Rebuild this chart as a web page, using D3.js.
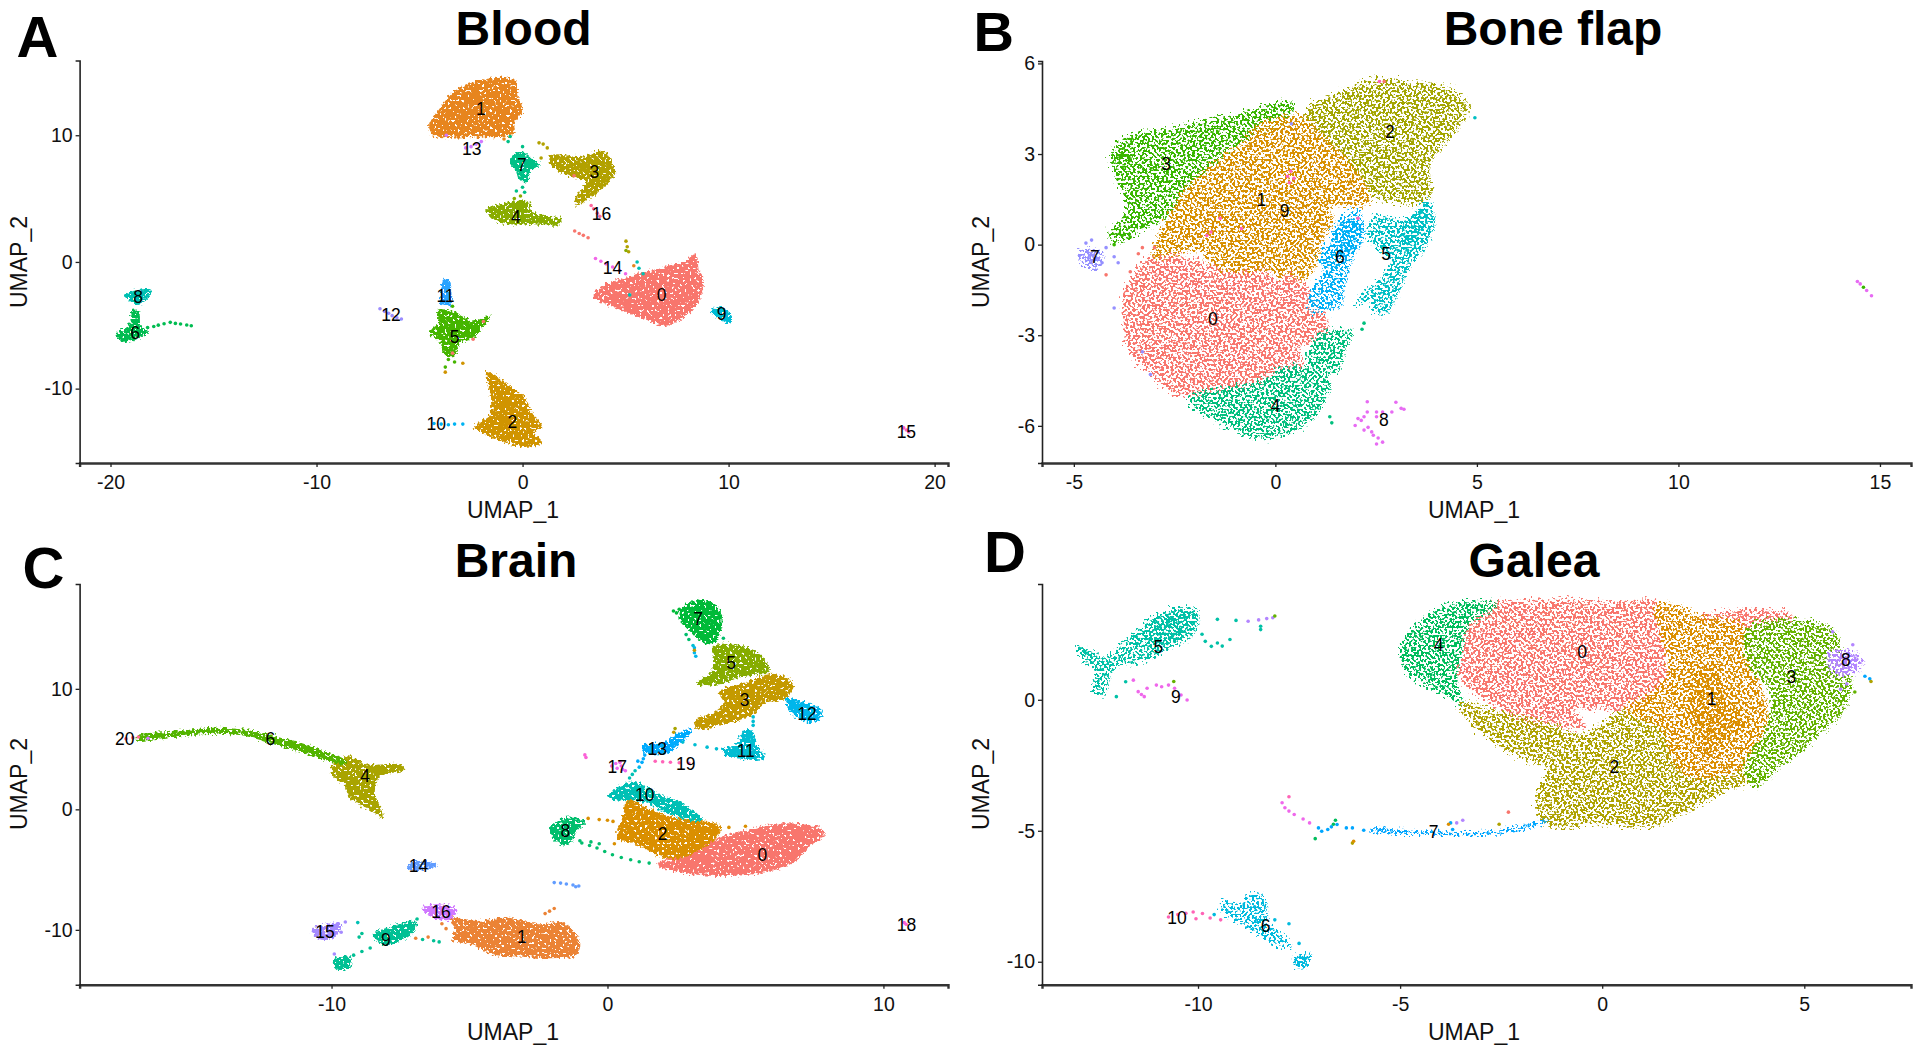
<!DOCTYPE html>
<html><head><meta charset="utf-8">
<style>html,body{margin:0;background:#fff}svg{display:block}text{font-family:"Liberation Sans",Arial,sans-serif}</style>
<script src="https://cdn.jsdelivr.net/npm/d3@7"></script></head><body><svg id="c" width="1920" height="1054"></svg>
<script>
// ---------- Panel A: Blood ----------
const bloodCount = 17;
const bloodLabelX = [6.75,-2.02,-.5,3.48,-.33,-3.3,-18.8,-.03,-18.66,9.66,-4.19,-3.74,-6.39,-2.47,4.37,18.63,3.83];
const bloodLabelY = [-2.6,12.07,-12.6,7.11,3.58,-5.92,-5.57,7.69,-2.79,-4.11,-12.79,-2.71,-4.19,8.89,-.45,-13.4,3.77];
const bloodHulls = [
 [1,[[-4.49,10.74],[-4.1,11.8],[-3.2,13.5],[-1.87,14.3],[-.39,14.3],[-.24,13],[-.03,11.9],[-.45,11],[-.45,10.2],[-1,9.95],[-2.76,9.95],[-4.2,9.95]]],
 [0,[[3.48,-2.6],[4.07,-1.86],[5.26,-1.19],[6.15,-.8],[7.34,-.27],[7.93,0],[8.38,.53],[8.53,-.8],[8.74,-1.33],[8.68,-2.39],[8.23,-3.71],[7.64,-4.5],[6.89,-4.96],[5.85,-4.38],[4.37,-3.45],[3.63,-2.92]]],
 [2,[[-1.72,-8.75],[-.68,-9.8],[.06,-10.74],[.51,-12.2],[.89,-12.86],[.51,-13.5],[.95,-14.2],[.21,-14.5],[-.68,-14.2],[-1.87,-13.5],[-2.32,-12.99],[-1.57,-12.2],[-1.49,-10.6]]],
 [3,[[1.4,8.36],[2.88,8.22],[3.92,8.7],[4.37,7.69],[4.43,6.9],[3.92,5.97],[3.18,5.04],[2.59,4.51],[2.73,5.3],[3.18,6.37],[2.44,6.76],[1.84,7.16],[1.4,7.69]]],
 [7,[[-.53,8.22],[-.09,8.62],[.51,7.96],[.8,7.69],[.36,7.29],[.21,6.37],[-.09,6.5],[-.24,7.16],[-.53,7.69]]],
 [4,[[-1.72,4.11],[-.68,4.64],[-.09,4.77],[.36,4.64],[.36,3.98],[1.4,3.5],[1.84,3.32],[1.75,3],[.51,3.05],[-.98,3.13],[-1.57,3.71]]],
 [5,[[-4.46,-5.57],[-4,-4.77],[-4.1,-3.85],[-3.2,-4.1],[-2.9,-4.38],[-2.47,-4.77],[-1.57,-4.3],[-2,-5.17],[-2.32,-5.84],[-3.06,-6.37],[-3.36,-7.43],[-3.8,-7.16],[-3.95,-6.23]]],
 [6,[[-19.7,-5.7],[-19.1,-5.17],[-18.87,-3.85],[-18.66,-3.98],[-18.57,-5.17],[-18.2,-5.44],[-18.66,-5.97],[-19.26,-6.23],[-19.55,-6.1]]],
 [8,[[-19.3,-2.65],[-18.96,-2.39],[-18.07,-2.25],[-18.2,-2.78],[-18.66,-3.32],[-18.96,-3.05]]],
 [9,[[9.18,-3.93],[9.57,-3.58],[10.16,-4.38],[10,-4.77],[9.57,-4.38]]],
 [11,[[-3.8,-1.46],[-3.6,-1.46],[-3.5,-2.65],[-3.5,-3.3],[-3.95,-3.3],[-3.9,-2.4]]]
];
const bloodCores = [];
const bloodDots = [
 [6,-18.2,-5.17],[6,-17.9,-5.1],[6,-17.68,-4.99],[6,-17.4,-4.88],[6,-17.1,-4.77],[6,-16.85,-4.85],[6,-16.6,-4.9],[6,-16.3,-4.98],[6,-16.08,-5.04],
 [10,-4.3,-12.75],[10,-3.95,-12.8],[10,-3.6,-12.85],[10,-3.3,-12.8],[10,-2.9,-12.8],
 [12,-6.92,-3.7],[12,-6.7,-3.9],[12,-6.5,-4.05],[12,-6.33,-4.24],[12,-6.1,-4.4],[12,-5.88,-4.5],
 [13,-2.76,9.0],[13,-2.5,9.1],[13,-2.25,9.3],[13,-2,9.5],[13,-3.7,10],
 [14,3.54,.27],[14,3.8,.05],[14,4.05,-.15],[14,4.37,-.4],[14,4.7,-.68],[14,5,-.93],
 [15,18.5,-13.1],[15,18.63,-13.26],[15,18.75,-13.42],
 [16,3.33,4.46],[16,3.45,4.2],[16,3.63,3.85],[16,3.75,3.6],
 [0,2.53,2.44],[0,2.75,2.25],[0,2.95,2.1],[0,3.18,1.91],[0,2.5,6.8],
 [3,5.02,1.64],[3,5.08,1.2],[3,5.15,.8],[4,5.02,.9],[3,1.0,9.3],[3,.8,9.4],[3,1.2,9.0],[3,.9,8.2],
 [1,5.4,-.3],[8,5.56,0],[8,5.65,-.5],[8,5.85,-.93],[8,5.2,-2.6],
 [7,-.3,5.6],[7,0,5.9],[7,.1,5.5],[7,0,9.1],[7,-.6,9.9],[7,-.7,9.5],[1,-.9,9.7],
 [4,-.1,5.2],[4,-.4,5.0],
 [5,-3.6,-7.7],[5,-3.3,-7.9],[5,-3.75,-8.3],[2,-3.75,-8.7],[5,-3.4,-3.5],[2,-2.9,-8.0],[11,-3.8,-1.5],
 [0,-1.9,-4.7],[0,-2.4,-6.1],[0,-3.4,-7.2]
];
// ---------- Panel B: Bone flap ----------
const boneCount = 10;
const boneLabelX = [-1.55,-.35,2.84,-2.71,0,2.75,1.6,-4.48,2.69,.23];
const boneLabelY = [-2.47,1.48,3.74,2.68,-5.33,-.3,-.41,-.41,-5.79,1.12];
const boneHulls = [
 [1,[[1.9,1.45],[1.3,1.5],[1.25,.6],[1.1,-.2],[.9,-.9],[.45,-1.3],[.1,-.9],[.2,-.3],[.7,.3],[1.2,1.2]]],
 [0,[[-3.27,-.69],[-2.66,-.36],[-1.29,-.8],[-.38,-.69],[.08,-1.25],[.38,-1.02],[1.14,-2.14],[1.29,-2.92],[.61,-3.36],[.68,-4.03],[.23,-4.25],[-.38,-4.59],[-1.75,-4.92],[-2.36,-4.92],[-3.12,-4.14],[-3.57,-3.47],[-3.69,-2.47],[-3.72,-1.69],[-3.5,-1.14]]],
 [2,[[.84,4.43],[1.29,4.77],[1.9,5.16],[2.66,5.43],[3.42,5.32],[4.18,5.21],[4.56,4.93],[4.86,4.54],[4.64,4.15],[4.33,3.54],[4.03,3.1],[3.8,2.54],[3.91,1.76],[3.57,1.43],[2.81,1.54],[2.36,1.76],[2.05,2.32],[1.9,2.76],[1.29,3.43],[.84,3.88]]],
 [3,[[-3.95,3.21],[-3.42,3.65],[-2.66,3.76],[-2.05,3.93],[-1.37,4.15],[-.84,4.26],[-.23,4.54],[.46,4.65],[.08,3.88],[-.53,3.65],[-1.14,3.21],[-1.6,2.54],[-2.2,1.87],[-2.66,.98],[-3.27,.53],[-3.95,.09],[-4.03,.42],[-3.65,.98],[-3.65,1.54],[-3.88,2.2],[-4,2.76]]],
 [1,[[-.08,4.1],[.68,4.21],[1.14,3.65],[1.9,2.65],[2.13,2.2],[2.36,1.43],[1.29,1.31],[1.44,.76],[.99,.2],[.68,.09],[.23,-.69],[-.38,-.8],[-1.29,-.8],[-1.9,-.13],[-2.96,-.36],[-2.81,.31],[-2.58,.87],[-2.2,1.76],[-1.75,2.32],[-1.14,2.98],[-.68,3.43],[-.38,3.88]]],
 [4,[[-2.05,-5.2],[-1.75,-4.92],[-.38,-4.59],[.23,-4.14],[1.14,-4.14],[1.37,-4.7],[1.14,-5.37],[.99,-5.7],[.23,-6.26],[-.38,-6.35],[-.99,-6.09],[-1.44,-5.76],[-1.82,-5.48]]],
 [4,[[1.29,-2.92],[1.9,-2.92],[1.67,-3.7],[1.6,-4.14],[1.14,-4.14],[.84,-3.81],[1.14,-3.03]]],
 [5,[[2.51,.88],[3.27,.76],[3.8,1.43],[3.95,.87],[3.8,.09],[3.34,-.69],[3.12,-1.36],[2.81,-2.19],[2.51,-2.19],[2.43,-1.8],[2.05,-1.92],[2.51,-1.36],[2.96,-.58],[2.66,-.13],[2.36,.31]]],
 [6,[[1.52,.53],[2.05,1.09],[2.2,.31],[1.9,-.47],[1.75,-1.14],[1.6,-1.97],[.91,-2.14],[.99,-1.47],[1.29,-.8],[1.14,-.47],[1.44,.09]]],
 [7,[[-4.86,-.36],[-4.56,-.13],[-4.26,-.36],[-4.49,-.8]]]
];
const boneCores = [
 [3,[[-3.88,3.1],[-3.7,3.3],[-3.6,2.6],[-3.8,2.5]]],
 [6,[[1.6,.53],[2.05,.87],[1.9,-.13],[1.5,-.5],[1.44,-.13]]],
 [5,[[3.2,.7],[3.72,1.2],[3.72,.53],[3.2,-.2]]],
 [7,[[-4.75,-.3],[-4.5,-.2],[-4.35,-.4],[-4.5,-.7]]]
];
const boneDots = [
 [8,2.05,-5.76],[8,2.2,-5.7],[8,2.28,-5.54],[8,2.51,-5.54],[8,2.66,-5.54],[8,2.28,-5.2],[8,2.51,-5.7],[8,3.12,-5.42],[8,2.99,-5.22],[8,2.89,-5.54],[8,2.2,-6.14],[8,2.43,-6.31],[8,2.66,-6.54],[8,2.51,-6.6],[8,1.98,-5.99],[8,2.13,-5.82],[8,2.39,-6.2],[8,3.19,-5.45],[8,2.3,-6.05],[8,2.55,-6.4],
 [8,14.44,-1.22],[8,14.51,-1.3],[3,14.59,-1.41],[8,14.67,-1.52],[8,14.79,-1.69],
 [9,.38,2.43],[9,.3,2.26],[9,.46,2.2],[9,.35,2.05],[9,-1.6,.42],[9,-1.37,.87],[9,-.84,.53],[9,2.58,5.4],[0,2.7,5.4],[9,2.05,.87],[9,-1.7,.3],
 [7,-4.56,.15],[7,-4.2,-.1],[7,-4.0,-.4],[7,-3.9,-.6],[7,-4.3,-.6],[7,-4.7,.05],[7,-4.0,-2.1],[7,-3.3,-3.55],[7,-3.1,-4.3],[7,0.4,4.0],
 [0,-3.4,-.3],[0,-3.6,-.9],[0,-4.2,-1.0],[0,-3.3,-.1],[0,-3.0,-.1],
 [3,-4.0,0.0],[3,-3.8,.3],[3,-3.6,.25],[3,-3.3,.6],
 [4,2.2,-2.6],[4,2.15,-2.8],[4,1.35,-5.7],[4,1.4,-5.9],[5,4.95,4.2]
];
// ---------- Panel C: Brain ----------
const brainCount = 21;
const brainLabelX = [5.61,-3.1,2,4.97,-8.78,4.48,-12.22,3.28,-1.53,-8.03,1.35,5.01,7.23,1.8,-6.85,-10.24,-6.03,.35,10.84,2.84,-17.49];
const brainLabelY = [-3.82,-10.6,-2.04,9.07,2.73,12.13,5.86,15.76,-1.81,-10.88,1.2,4.83,7.89,5.02,-4.74,-10.18,-8.56,3.49,-9.62,3.77,5.8];
const brainHulls = [
 [0,[[1.84,-4.6],[3.06,-3.63],[3.95,-2.51],[4.83,-1.95],[6.16,-1.26],[7.72,-1.67],[7.83,-2.18],[7.27,-3.07],[6.83,-4.18],[5.94,-5.02],[3.95,-5.44],[2.39,-5.02]]],
 [1,[[-5.7,-9.07],[-4.7,-9.34],[-3.59,-9.07],[-2.48,-9.62],[-1.6,-9.48],[-1.04,-10.88],[-1.15,-12],[-2.04,-12.27],[-3.15,-12.13],[-4.04,-12],[-4.92,-11.16],[-5.59,-10.74],[-5.48,-9.9]]],
 [2,[[.73,.7],[1.51,0],[2.06,-.56],[3.06,-.98],[4.06,-1.39],[3.95,-2.23],[3.06,-3.63],[2.39,-4.04],[1.84,-3.77],[1.18,-2.93],[.4,-2.37],[.51,-1.12],[.62,-.28]]],
 [3,[[4.06,9.76],[4.83,10.32],[6.05,11.16],[6.72,10.32],[6.39,9.2],[5.72,8.93],[5.17,7.81],[3.95,6.97],[3.39,6.69],[3.17,7.25],[3.95,8.09],[4.28,8.93]]],
 [4,[[-9.91,3.63],[-9.36,4.32],[-8.69,3.63],[-7.58,3.68],[-7.36,3.35],[-8.25,2.79],[-8.47,1.39],[-8.14,-.56],[-8.47,-.14],[-9.36,1.12],[-9.47,2.09],[-9.91,2.79]]],
 [5,[[3.84,13.39],[4.39,13.67],[5.28,13.11],[5.72,12.27],[5.83,11.44],[4.95,11.16],[4.06,10.46],[3.28,10.46],[3.84,11.44],[3.9,12.27]]],
 [6,[[-17.01,6.08],[-15.79,6.36],[-14.24,6.69],[-13.13,6.53],[-12.24,6.08],[-11.13,5.44],[-10.24,4.69],[-9.53,4.04],[-9.53,3.77],[-10.24,4.18],[-11.13,4.88],[-12.24,5.58],[-13.13,6.19],[-14.24,6.36],[-15.79,6.08],[-17.01,5.8]]],
 [7,[[2.73,16.74],[3.28,17.29],[3.84,17.01],[4.13,15.9],[4.06,14.79],[3.84,13.81],[3.39,14.09],[2.95,15.06],[2.66,15.76]]],
 [8,[[-2.04,-1.53],[-1.49,-.78],[-.82,-1.12],[-1.15,-1.67],[-1.26,-2.37],[-1.49,-2.93],[-1.93,-2.37]]],
 [9,[[-8.47,-10.46],[-7.58,-9.62],[-6.92,-9.34],[-7.14,-10.32],[-8.03,-11.16]]],
 [9,[[-9.91,-12.55],[-9.36,-12.27],[-9.36,-13.11],[-9.8,-13.17]]],
 [10,[[.07,1.12],[.84,2.23],[1.29,1.95],[1.95,1.12],[2.62,.56],[3.39,-.84],[3.06,-.84],[2.06,-.14],[1.51,.56],[.84,.84],[.29,.84]]],
 [11,[[4.17,5.02],[4.72,5.3],[4.94,6.42],[5.23,6.42],[5.39,5.3],[5.68,4.32],[4.72,4.32],[4.17,4.8]]],
 [12,[[6.5,9.15],[6.94,8.93],[7.72,8.23],[7.72,7.67],[7.27,7.31],[6.83,7.81],[6.5,8.73]]],
 [13,[[1.29,5.3],[2.06,5.44],[2.39,6],[3.06,6.56],[2.62,5.58],[2.28,4.88],[1.4,4.74]]],
 [14,[[-7.18,-4.6],[-6.69,-4.32],[-6.21,-4.69],[-6.69,-4.88],[-7.14,-4.97]]],
 [15,[[-10.69,-10.04],[-10.14,-9.62],[-9.69,-9.48],[-9.91,-10.6],[-10.47,-10.66]]],
 [16,[[-6.7,-8.23],[-6.14,-7.95],[-5.48,-8.37],[-5.81,-9.2],[-6.47,-8.65]]]
];
const brainCores = [];
const brainDots = [
 [7,2.39,16.46],[7,2.5,16.3],[7,2.6,16.6],
 [17,.15,3.6],[17,.3,3.8],[17,.45,3.9],[17,.35,3.4],[17,.55,3.3],[17,.65,3.2],[17,.5,3.6],
 [8,-.93,-2.79],[8,-.65,-3],[8,-.38,-3.21],[8,-.1,-3.5],[8,.18,-3.77],[8,.5,-4],[8,.84,-4.18],[8,1.15,-4.35],[8,1.51,-4.46],[8,-1,-2.6],[8,-.6,-2.7],[8,-.3,-2.85],
 [2,-.7,-.75],[2,-.3,-.85],[2,0,-.9],[2,.2,-1],[2,.25,-2.85],[2,3.9,-1.5],[2,4.4,-1.5],[2,5,-1.4],
 [9,-9.2,-12.1],[9,-8.9,-11.8],[9,-8.6,-11.5],[9,-8.9,-10.3],[9,-9,-10.6],[9,-6.9,-9.1],[9,-6.7,-10.8],[9,-6.3,-10.9],[9,-6.1,-11],
 [1,-6.95,-10.7],[1,-6.5,-10.6],[1,-2.26,-8.65],[1,-1.93,-8.23],[1,-2.1,-8.45],[1,-6,-9.5],[1,-5.85,-9.9],
 [11,2.73,5.58],[11,3.17,5.36],[11,3.61,5.16],[11,3.95,5.02],[11,5.28,7.67],[11,5.28,7.3],[11,5.28,6.97],[11,5,6.1],
 [13,1.3,4.2],[13,1.25,3.9],[13,1.1,4],[13,1.35,4.5],[12,1.15,3.5],[10,1,3.2],[10,.9,2.9],[10,.8,2.6],
 [19,1.73,3.99],[19,2,3.95],[19,2.28,3.91],[19,2.6,3.87],[19,2.95,3.82],
 [20,-17.45,5.86],[20,-17.2,5.95],[20,-17,6],[16,-16.65,5.9],
 [18,10.82,-9.54],[18,10.75,-9.4],[18,-.82,4.52],[18,-.78,4.3],
 [14,-1.93,-6.08],[14,-1.7,-6.12],[14,-1.49,-6.19],[14,-1.25,-6.28],[14,-1.04,-6.36],[14,-1.15,-6.42],
 [11,3.1,13.6],[12,3.15,13.4],[12,3.15,13],[12,3.2,12.7],[8,2.95,14.1],[8,2.85,14.5],[8,4.2,14.2],[3,3.15,13.2],[4,2.45,6.7],[3,2.4,6.4],
 [15,-9.5,-9.35],[15,-9.9,-12],[15,-9.65,-10.2],[10,-9.05,-9.4]
];
// ---------- Panel D: Galea ----------
const galeaCount = 11;
const galeaLabelX = [-.5,2.71,.3,4.68,-4.05,-10.98,-8.33,-4.17,6.03,-10.55,-10.52];
const galeaLabelY = [1.81,.03,-2.58,.86,2.08,2.03,-8.64,-5.04,1.5,.09,-8.32];
const galeaHulls = [
 [0,[[-2.85,3.58],[-1.03,3.77],[.18,3.65],[1.39,3.65],[1.7,2.49],[1.55,1.46],[1.7,.69],[1.09,-.08],[.64,-.33],[-.73,-.33],[-.42,-.98],[-1.33,-.85],[-1.94,-.98],[-2.55,-.21],[-3.45,.95],[-3.3,2.11],[-3.3,2.88],[-2.7,3.52]]],
 [0,[[2.45,3.13],[3.21,3.32],[3.67,3.45],[4.73,3.2],[3.67,2.62],[2.76,2.81]]],
 [2,[[-3.45,-.21],[-2.7,-.46],[-1.33,-.98],[-.42,-1.36],[.64,-.46],[1.55,-1.1],[2.3,-2.77],[3.52,-2.64],[3.67,-3.03],[3.06,-3.41],[2.3,-4.06],[1.24,-4.76],[.03,-4.63],[-1.33,-4.7],[-1.56,-3.67],[-1.26,-2.64],[-1.94,-2.13],[-2.7,-1.49]]],
 [1,[[1.39,3.58],[1.92,3.52],[2.45,3.13],[3.59,2.75],[3.67,1.59],[4.12,-.59],[3.97,-1.62],[3.52,-2.52],[2.91,-2.9],[2.3,-2.9],[1.85,-2.39],[1.55,-1.1],[.64,-.33],[1.24,.18],[1.7,.95],[1.62,2.11]]],
 [3,[[3.67,2.75],[4.58,3],[5.64,2.75],[5.94,1.85],[6.17,.56],[5.94,-.46],[5.33,-1.36],[4.42,-2.52],[3.82,-3.22],[3.59,-2.64],[4.12,-1.1],[4.27,.18],[3.67,1.46]]],
 [4,[[-4.94,1.72],[-4.59,2.75],[-3.91,3.45],[-3,3.71],[-2.62,3.58],[-3.3,2.88],[-3.45,1.85],[-3.61,.69],[-3.45,-.08],[-3.91,.31],[-4.67,.95]]],
 [5,[[-12.92,1.98],[-12.24,1.53],[-11.79,2.11],[-10.88,3.26],[-10.05,3.39],[-10.05,2.62],[-10.73,1.98],[-11.33,1.53],[-12.08,1.27],[-12.3,.31],[-12.52,.31],[-12.47,1.08],[-12.85,1.72]]],
 [6,[[-9.39,-7.84],[-8.91,-7.84],[-8.68,-7.52],[-8.38,-7.52],[-8.3,-7.91],[-8.3,-8.42],[-7.7,-9.38],[-7.94,-9.32],[-8.68,-8.68],[-9.21,-8.16]]],
 [8,[[5.64,1.72],[6.09,1.85],[6.47,1.46],[6.32,1.14],[6.02,.95],[5.71,1.21]]]
];
const galeaCores = [
 [1,[[2.2,1],[2.8,1.2],[3,.2],[3.5,-1],[3,-1.6],[2.6,-2.2],[2.3,-1.2]]],
 [5,[[-11.03,3.14],[-10.05,3.39],[-10.12,2.75],[-10.73,2.11],[-11.33,2.23]]],
 [5,[[-12.92,1.98],[-12.24,1.53],[-12.08,1.27],[-12.85,1.72]]],
 [6,[[-7.62,-9.83],[-7.17,-9.7],[-7.33,-10.22],[-7.55,-10.22]]],
 [7,[[-5.73,-4.94],[-4.21,-5.03],[-2.55,-4.99],[-1.33,-4.57],[-1.33,-4.65],[-2.55,-5.11],[-4.21,-5.15],[-5.73,-5.01]]],
 [8,[[5.8,1.65],[6.2,1.7],[6.35,1.4],[6,1.1]]]
];
const galeaDots = [
 [5,-9.82,2.23],[5,-9.52,2.17],[5,-9.21,2.3],[5,-9.67,2.04],[5,-9.4,2.05],[5,-9.52,3.07],[5,-9.06,3.03],[5,-8.45,2.68],[5,-12.02,.12],[5,-11.79,.69],[5,-9.9,2.5],
 [8,-8.76,3],[8,-8.5,3.05],[8,-8.3,3.1],[8,-8.15,3.13],[5,-8.45,2.81],[3,-8.1,3.2],
 [9,-11.48,.31],[9,-11.26,.44],[9,-11.03,.56],[9,-10.73,.56],[9,-10.58,.44],[9,-10.42,.18],[9,-10.27,-.01],[9,-11.33,.12],[9,-10.9,.5],[9,-11.4,.2],[3,-10.6,.7],[9,-11.6,.75],
 [10,-10.73,-8.29],[10,-10.5,-8.2],[10,-10.3,-8.15],[10,-10.12,-8.1],[10,-9.89,-8.16],[10,-10.05,-8.36],[10,-9.44,-8.4],[10,-9.7,-8.33],
 [6,-7.5,-9.3],[6,-7.75,-8.55],[6,-8.1,-8.4],[6,-9.6,-8.2],[6,-8.6,-7.9],
 [7,-7.02,-4.89],[7,-6.94,-5.02],[7,-6.79,-4.95],[7,-6.56,-4.76],[7,-6.33,-4.89],[7,-6.18,-4.89],[7,-5.9,-4.98],[7,-6.7,-4.85],[7,-3.75,-4.7],[7,-3.7,-4.95],[4,-6.6,-4.6],[4,-6.65,-4.75],
 [9,-7.92,-3.93],[9,-7.85,-4.12],[9,-7.75,-4.25],[9,-7.62,-4.38],[9,-7.4,-4.55],[9,-7.24,-4.7],[10,-7.75,-3.7],[4,-7.1,-5.3],
 [8,-3.45,-4.6],[8,-3.6,-4.7],[1,-3.8,-4.75],[2,-2.55,-4.75],[2,-6.18,-5.47],[1,-6.15,-5.4],[0,-2.32,-4.29],
 [8,6.2,2.1],[8,5.9,.4],[8,6.05,.6],[7,6.62,.8],[7,6.5,.9],[2,6.65,.7],[8,5.7,2.6],[3,6.25,.3]
];
const panelNames = ["Blood","Bone flap","Brain","Galea"];
const panelLetters = ["A","B","C","D"];
const xTicks = [[-20,-10,0,10,20],[-5,0,5,10,15],[-10,0,10],[-10,-5,0,5]];
const yTicks = [[-10,0,10],[-6,-3,0,3,6],[-10,0,10],[-10,-5,0]];
const xDomains = [[-21.5,20.65],[-5.79,15.77],[-19.13,12.34],[-13.86,7.64]];
const yDomains = [[-15.87,15.9],[-7.23,6.08],[-14.56,18.7],[-10.88,4.42]];

const series = [
 {n:bloodCount,h:bloodHulls,c:bloodCores,d:bloodDots,lx:bloodLabelX,ly:bloodLabelY,sparse:false},
 {n:boneCount,h:boneHulls,c:boneCores,d:boneDots,lx:boneLabelX,ly:boneLabelY,sparse:true},
 {n:brainCount,h:brainHulls,c:brainCores,d:brainDots,lx:brainLabelX,ly:brainLabelY,sparse:false},
 {n:galeaCount,h:galeaHulls,c:galeaCores,d:galeaDots,lx:galeaLabelX,ly:galeaLabelY,sparse:true}
];
const frames = [
 {l:79.6,r:948,t:60.5,b:463,titleX:523.6,titleY:45,letX:16.5,letY:57,letS:58,xtX:513,xtY:517.6,ytX:39,ytY:262},
 {l:1042,r:1911,t:61,b:463,titleX:1553,titleY:45,letX:973.5,letY:51,letS:56,xtX:1474,xtY:517.6,ytX:1001,ytY:262},
 {l:79.6,r:948,t:584,b:984.8,titleX:516,titleY:577,letX:22.6,letY:587.5,letS:58,xtX:513,xtY:1039.6,ytX:39,ytY:784},
 {l:1042,r:1911,t:584,b:984.8,titleX:1534,titleY:577,letX:984,letY:572,letS:58,xtX:1474,xtY:1039.6,ytX:1001,ytY:784}
];

// ggplot2 hue palette: polar CIELUV hue, c=100, l=65
function hueColor(i,n){
  const h=(15+360*i/n)*Math.PI/180,L=65,U=100*Math.cos(h),V=100*Math.sin(h);
  const Y=Math.pow((L+16)/116,3),u=U/(13*L)+0.19784,v=V/(13*L)+0.46834;
  const X=9*Y*u/(4*v),Z=-X/3-5*Y+3*Y/v;
  const g=c=>{c=Math.max(0,Math.min(1,c));return Math.round(255*(c<=0.0031308?12.92*c:1.055*Math.pow(c,1/2.4)-0.055));};
  return d3.rgb(g(3.2406*X-1.5372*Y-0.4986*Z),g(-0.9689*X+1.8758*Y+0.0415*Z),g(0.0557*X-0.204*Y+1.057*Z)).formatHex();
}

const svg=d3.select("#c");
const defs=svg.append("defs");
function speckle(id,freq,disp,gain,thr){
  const f=defs.append("filter").attr("id",id).attr("x","-10%").attr("y","-10%").attr("width","120%").attr("height","120%")
    .attr("color-interpolation-filters","sRGB");
  f.append("feTurbulence").attr("type","fractalNoise").attr("baseFrequency",freq).attr("numOctaves",1).attr("seed",7).attr("result","n");
  f.append("feDisplacementMap").attr("in","SourceGraphic").attr("in2","n").attr("scale",disp).attr("xChannelSelector","R").attr("yChannelSelector","G").attr("result","dd");
  f.append("feColorMatrix").attr("in","n").attr("type","matrix")
    .attr("values",`0 0 0 0 0 0 0 0 0 0 0 0 0 0 0 ${gain} 0 0 0 ${-gain*thr}`).attr("result","m");
  f.append("feComposite").attr("in","dd").attr("in2","m").attr("operator","in");
}
speckle("dense",0.4,9,25,0.33);
speckle("medium",0.42,14,25,0.44);
speckle("sparse",0.42,22,25,0.485);

series.forEach((s,p)=>{
  const fr=frames[p];
  const x=d3.scaleLinear().domain(xDomains[p]).range([fr.l,fr.r]);
  const y=d3.scaleLinear().domain(yDomains[p]).range([fr.b,fr.t]);
  const colors=d3.range(s.n).map(i=>hueColor(i,s.n));
  const g=svg.append("g");
  const line=d3.line().x(d=>x(d[0])).y(d=>y(d[1])).curve(d3.curveCatmullRomClosed.alpha(.5));
  g.append("g").selectAll("path").data(s.h).join("path")
    .attr("d",d=>line(d[1])).attr("fill",d=>colors[d[0]])
    .attr("stroke",d=>colors[d[0]]).attr("stroke-width",s.sparse?4:2).attr("stroke-linejoin","round")
    .attr("filter",s.sparse?"url(#sparse)":"url(#dense)");
  g.append("g").selectAll("path").data(s.c).join("path")
    .attr("d",d=>line(d[1])).attr("fill",d=>colors[d[0]]).attr("filter","url(#medium)");
  g.append("g").selectAll("circle").data(s.d).join("circle")
    .attr("cx",d=>x(d[1])).attr("cy",d=>y(d[2])).attr("r",1.8).attr("fill",d=>colors[d[0]]);
  // axes
  const ax=g.append("g").attr("transform",`translate(0,${fr.b})`).call(d3.axisBottom(x).tickValues(xTicks[p]).tickSize(4).tickPadding(8).tickFormat(d3.format("d")));
  const ay=g.append("g").attr("transform",`translate(${fr.l},0)`).call(d3.axisLeft(y).tickValues(yTicks[p]).tickSize(4).tickPadding(3).tickFormat(d3.format("d")));
  ax.select(".domain").attr("stroke","#333").attr("stroke-width",2.4);
  ay.select(".domain").attr("stroke","#222").attr("stroke-width",1.6);
  [ax,ay].forEach(a=>{a.attr("font-family",null).attr("font-size",null);
    a.selectAll("text").attr("font-size",19.5).attr("fill","#111").text(function(){return d3.select(this).text().replace("−","-");});
    a.selectAll("line").attr("stroke","#222").attr("stroke-width",1.3);});
  // cluster labels
  g.append("g").selectAll("text").data(s.lx.map((v,i)=>[i,v,s.ly[i]])).join("text")
    .attr("x",d=>x(d[1])).attr("y",d=>y(d[2])).attr("text-anchor","middle").attr("dominant-baseline","central")
    .attr("font-size",17.5).attr("fill","#000").text(d=>d[0]);
  // titles
  g.append("text").attr("x",fr.titleX).attr("y",fr.titleY).attr("text-anchor","middle").attr("font-weight","bold").attr("font-size",48).attr("fill","#000").text(panelNames[p]);
  g.append("text").attr("x",fr.letX).attr("y",fr.letY).attr("font-weight","bold").attr("font-size",fr.letS).attr("fill","#000").text(panelLetters[p]);
  g.append("text").attr("x",fr.xtX).attr("y",fr.xtY).attr("text-anchor","middle").attr("font-size",23).attr("fill","#111").text("UMAP_1");
  g.append("text").attr("transform",`translate(${fr.ytX-12},${fr.ytY}) rotate(-90)`).attr("text-anchor","middle").attr("font-size",23).attr("fill","#111").text("UMAP_2");
});
</script></body></html>
